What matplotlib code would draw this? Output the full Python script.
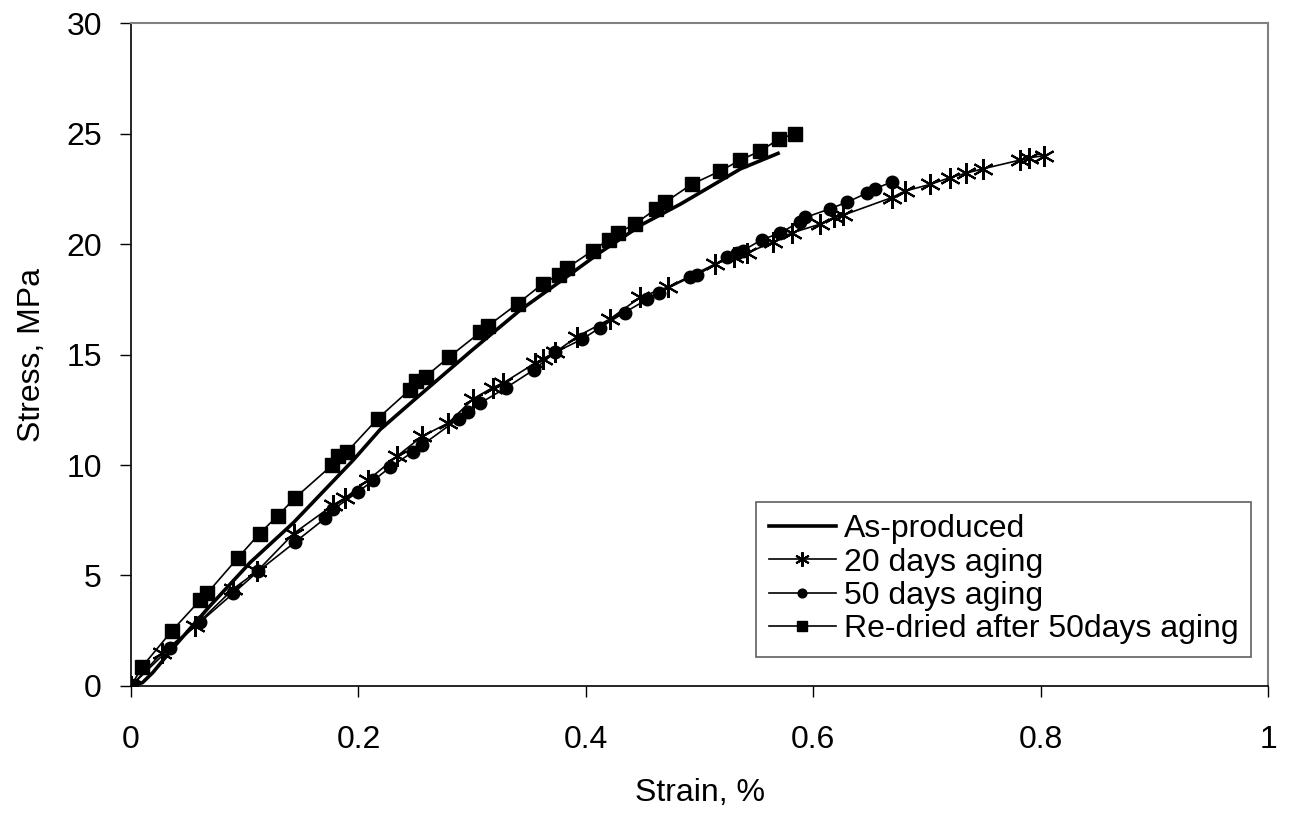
import matplotlib
matplotlib.use("Agg")
import matplotlib.pyplot as plt

plt.rcParams["font.family"] = ["Liberation Sans", "DejaVu Sans"]
FS = 23

# Stress-strain curves, strain in %, stress in MPa
as_produced_strain = [0, 0.01, 0.019, 0.04, 0.069, 0.105, 0.143, 0.195, 0.219, 0.248,
                      0.30, 0.342, 0.38, 0.412, 0.45, 0.483, 0.493, 0.536, 0.569]
as_produced_stress = [0, 0.15, 0.6, 1.9, 3.6, 5.6, 7.4, 10.2, 11.6, 12.9,
                      15.2, 17.0, 18.4, 19.6, 20.9, 21.8, 22.1, 23.4, 24.1]

aged20_strain = [0, 0.027, 0.056, 0.09, 0.111, 0.143, 0.178, 0.188, 0.208, 0.234,
                 0.256, 0.279, 0.301, 0.318, 0.327, 0.355, 0.362, 0.373, 0.392, 0.421,
                 0.448, 0.472, 0.514, 0.530, 0.542, 0.565, 0.581, 0.606, 0.618, 0.626,
                 0.669, 0.681, 0.703, 0.720, 0.734, 0.749, 0.782, 0.790, 0.803]
aged20_stress = [0, 1.5, 2.7, 4.4, 5.2, 6.9, 8.2, 8.5, 9.3, 10.4,
                 11.3, 11.9, 13.0, 13.5, 13.7, 14.6, 14.8, 15.1, 15.8, 16.6,
                 17.6, 18.05, 19.1, 19.4, 19.6, 20.1, 20.5, 20.9, 21.2, 21.3,
                 22.1, 22.4, 22.7, 23.0, 23.2, 23.4, 23.8, 23.9, 24.0]

aged50_strain = [0, 0.034, 0.061, 0.090, 0.112, 0.144, 0.171, 0.178, 0.200, 0.213,
                 0.228, 0.248, 0.256, 0.288, 0.296, 0.307, 0.330, 0.354, 0.373, 0.397,
                 0.412, 0.434, 0.454, 0.464, 0.492, 0.498, 0.524, 0.533, 0.538, 0.555,
                 0.571, 0.588, 0.593, 0.615, 0.630, 0.647, 0.654, 0.669]
aged50_stress = [0, 1.7, 2.9, 4.2, 5.2, 6.5, 7.6, 8.0, 8.8, 9.3,
                 9.9, 10.6, 10.9, 12.1, 12.4, 12.8, 13.5, 14.3, 15.1, 15.7,
                 16.2, 16.9, 17.5, 17.8, 18.5, 18.6, 19.4, 19.6, 19.7, 20.2,
                 20.5, 21.0, 21.2, 21.6, 21.9, 22.3, 22.5, 22.8]

redried_strain = [0, 0.0097, 0.036, 0.061, 0.067, 0.094, 0.113, 0.129, 0.144, 0.177,
                  0.182, 0.190, 0.217, 0.245, 0.251, 0.259, 0.280, 0.307, 0.314, 0.340,
                  0.362, 0.376, 0.383, 0.406, 0.420, 0.428, 0.443, 0.462, 0.470, 0.493,
                  0.518, 0.536, 0.553, 0.570, 0.584]
redried_stress = [0, 0.87, 2.5, 3.9, 4.2, 5.8, 6.9, 7.7, 8.5, 10.0,
                  10.4, 10.6, 12.1, 13.4, 13.8, 14.0, 14.9, 16.0, 16.3, 17.3,
                  18.2, 18.6, 18.9, 19.7, 20.2, 20.5, 20.9, 21.6, 21.9, 22.7,
                  23.3, 23.8, 24.2, 24.75, 25.0]

fig = plt.figure(figsize=(12.9, 8.19), dpi=100)
ax = fig.add_axes([0.1016, 0.1624, 0.8814, 0.8095])

ax.plot(as_produced_strain, as_produced_stress, color="black", lw=2.6,
        label="As-produced")
ax.plot(aged20_strain, aged20_stress, color="black", lw=1.2, marker=(6, 2, 0),
        markersize=15, markeredgewidth=1.5, label="20 days aging")
ax.plot(aged50_strain, aged50_stress, color="black", lw=1.2, marker="o",
        markersize=9, label="50 days aging")
ax.plot(redried_strain, redried_stress, color="black", lw=1.2, marker="s",
        markersize=10.5, label="Re-dried after 50days aging")

ax.set_xlim(0, 1)
ax.set_ylim(0, 30)
ax.set_xticks([0, 0.2, 0.4, 0.6, 0.8, 1])
ax.set_xticklabels(["0", "0.2", "0.4", "0.6", "0.8", "1"])
ax.set_yticks(range(0, 31, 5))
ax.tick_params(axis="x", direction="out", length=8, width=1, pad=20, labelsize=FS)
ax.tick_params(axis="y", direction="out", length=8, width=1, pad=13, labelsize=FS)

for side in ("top", "right"):
    ax.spines[side].set_color("#808080")
    ax.spines[side].set_linewidth(1.5)
for side in ("left", "bottom"):
    ax.spines[side].set_color("black")
    ax.spines[side].set_linewidth(1.2)

ax.set_xlabel("Strain, %", fontsize=FS, labelpad=17)
ax.set_ylabel("Stress, MPa", fontsize=FS, labelpad=14)

leg = ax.legend(loc="lower right", bbox_to_anchor=(0.985, 0.044), borderaxespad=0,
                fancybox=False, framealpha=1, edgecolor="#606060", fontsize=FS,
                handlelength=2.1, handletextpad=0.25, labelspacing=0.1,
                markerscale=0.7, borderpad=0.4)
leg.get_frame().set_linewidth(1.2)

fig.savefig("out.png", dpi=100)
